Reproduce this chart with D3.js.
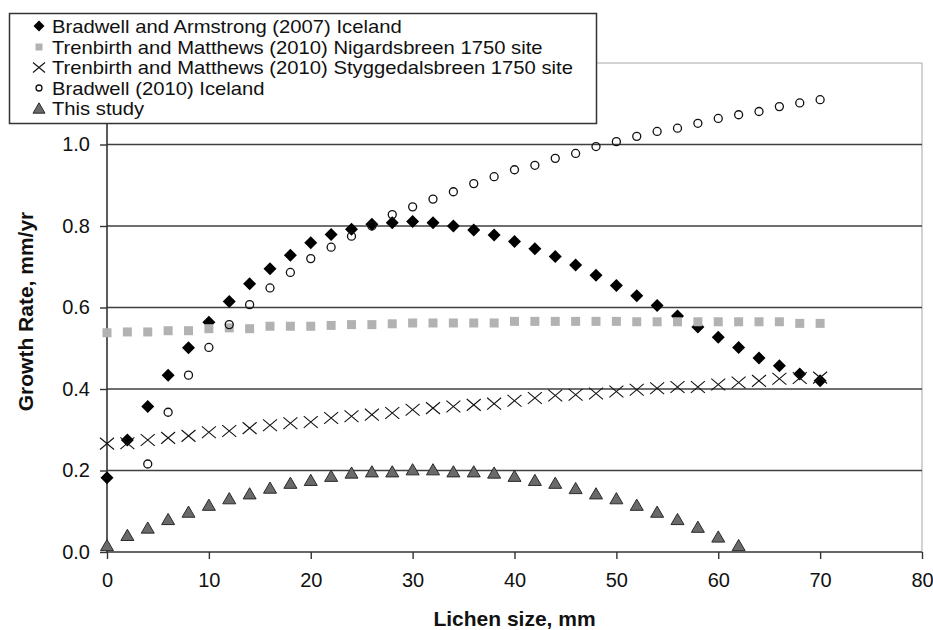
<!DOCTYPE html>
<html>
<head>
<meta charset="utf-8">
<script src="https://cdn.jsdelivr.net/npm/d3@7"></script>
<style>
  html, body { margin: 0; padding: 0; background: #fff; }
  svg { display: block; font-family: "Liberation Sans", Arial, sans-serif; }
</style>
</head>
<body>
<svg id="chart" width="933" height="630"></svg>
<script>
// ---- data ----
const lichenSizes = [0,2,4,6,8,10,12,14,16,18,20,22,24,26,28,30,32,34,36,38,40,42,44,46,48,50,52,54,56,58,60,62,64,66,68,70];
const bradwellArmstrong2007 = [0.182,0.275,0.357,0.434,0.501,0.564,0.615,0.658,0.695,0.728,0.759,0.779,0.792,0.804,0.808,0.811,0.808,0.800,0.790,0.778,0.762,0.744,0.725,0.704,0.679,0.654,0.629,0.605,0.579,0.552,0.527,0.502,0.476,0.457,0.437,0.420];
const nigardsbreen1750 = [0.538,0.540,0.540,0.543,0.543,0.548,0.550,0.548,0.554,0.554,0.554,0.556,0.558,0.558,0.560,0.562,0.562,0.562,0.562,0.562,0.566,0.566,0.566,0.566,0.566,0.566,0.565,0.565,0.565,0.565,0.565,0.565,0.565,0.565,0.561,0.561];
const styggedalsbreen1750 = [0.266,0.267,0.275,0.280,0.285,0.294,0.297,0.304,0.311,0.316,0.319,0.329,0.333,0.337,0.341,0.349,0.353,0.357,0.361,0.364,0.371,0.378,0.384,0.386,0.389,0.394,0.398,0.402,0.405,0.405,0.411,0.416,0.420,0.425,0.427,0.428];
const bradwell2010 = [null,null,0.216,0.343,0.434,0.502,0.558,0.607,0.648,0.686,0.720,0.748,0.775,0.800,0.828,0.847,0.866,0.884,0.904,0.921,0.938,0.949,0.966,0.978,0.995,1.007,1.020,1.032,1.040,1.052,1.064,1.073,1.081,1.093,1.102,1.110];
const thisStudy = [0.017,0.042,0.060,0.081,0.099,0.116,0.132,0.144,0.158,0.170,0.177,0.187,0.195,0.198,0.198,0.203,0.203,0.198,0.198,0.195,0.187,0.177,0.170,0.157,0.144,0.132,0.116,0.099,0.081,0.062,0.038,0.017,null,null,null,null];

const seriesNames = [
  "Bradwell and Armstrong (2007) Iceland",
  "Trenbirth and Matthews (2010) Nigardsbreen 1750 site",
  "Trenbirth and Matthews (2010) Styggedalsbreen 1750 site",
  "Bradwell (2010) Iceland",
  "This study"
];
const xTicks = [0,10,20,30,40,50,60,70,80];
const yTicks = [0.0,0.2,0.4,0.6,0.8,1.0];
const xTitle = "Lichen size, mm";
const yTitle = "Growth Rate, mm/yr";

// ---- layout ----
const svg = d3.select("#chart");
const L = 107, R = 922, T = 63, B = 552;
const x = d3.scaleLinear().domain([0, 80]).range([L, R]);
const y = d3.scaleLinear().domain([0, 1.2]).range([B, T]);

// marker painters
const markers = {
  diamond: (g, cx, cy, s) => g.append("path")
      .attr("d", `M${cx},${cy - s/2}L${cx + s/2},${cy}L${cx},${cy + s/2}L${cx - s/2},${cy}Z`)
      .attr("fill", "#000"),
  square: (g, cx, cy, s) => g.append("rect")
      .attr("x", cx - s/2).attr("y", cy - s/2).attr("width", s).attr("height", s)
      .attr("fill", "#b2b2b2"),
  cross: (g, cx, cy, s) => g.append("path")
      .attr("d", `M${cx - s/2},${cy - s*0.42}L${cx + s/2},${cy + s*0.42}M${cx - s/2},${cy + s*0.42}L${cx + s/2},${cy - s*0.42}`)
      .attr("stroke", "#111").attr("stroke-width", 1.1).attr("fill", "none"),
  circle: (g, cx, cy, s) => g.append("circle")
      .attr("cx", cx).attr("cy", cy).attr("r", s/2)
      .attr("fill", "none").attr("stroke", "#111").attr("stroke-width", 1.3),
  triangle: (g, cx, cy, s) => g.append("path")
      .attr("d", `M${cx},${cy - s*0.43}L${cx + s/2},${cy + s*0.43}L${cx - s/2},${cy + s*0.43}Z`)
      .attr("fill", "#6a6a6a").attr("stroke", "#2a2a2a").attr("stroke-width", 1)
};

const seriesDefs = [
  { values: bradwellArmstrong2007, marker: "diamond", size: 13, legSize: 11 },
  { values: nigardsbreen1750, marker: "square", size: 9, legSize: 7 },
  { values: styggedalsbreen1750, marker: "cross", size: 14, legSize: 12 },
  { values: bradwell2010, marker: "circle", size: 8, legSize: 6 },
  { values: thisStudy, marker: "triangle", size: 13, legSize: 12 }
];

// plot border (top/right light gray)
svg.append("path")
  .attr("d", `M${L},${T}H${R}V${B}`)
  .attr("fill", "none").attr("stroke", "#a8a8a8").attr("stroke-width", 1);

// gridlines
svg.append("g").selectAll("line")
  .data(yTicks.filter(v => v > 0))
  .join("line")
  .attr("x1", L).attr("x2", R)
  .attr("y1", d => y(d)).attr("y2", d => y(d))
  .attr("stroke", "#3f3f3f").attr("stroke-width", 1.5);

// axes
const yAxis = d3.axisLeft(y).tickValues(yTicks).tickFormat(d3.format(".1f")).tickSize(7).tickPadding(10);
const gy = svg.append("g").attr("transform", `translate(${L},0)`).call(yAxis);
const xAxis = d3.axisBottom(x).tickValues(xTicks).tickFormat(d3.format("d")).tickSize(7).tickPadding(14);
const gx = svg.append("g").attr("transform", `translate(0,${B})`).call(xAxis);
[gx, gy].forEach(g => {
  g.select(".domain").attr("stroke", "#333").attr("stroke-width", 1.6);
  g.selectAll(".tick line").attr("stroke", "#333").attr("stroke-width", 1.4);
  g.selectAll(".tick text").attr("font-size", 20).attr("fill", "#111")
    .attr("font-family", "Liberation Sans, Arial, sans-serif");
});
gy.select(".domain").attr("d", `M0,${B}V${T}`);
gx.select(".domain").attr("d", `M${L},0H${R}`);

// axis titles
svg.append("text")
  .attr("x", (L + R) / 2).attr("y", 626)
  .attr("text-anchor", "middle").attr("font-weight", "bold").attr("font-size", 21)
  .attr("fill", "#111").text(xTitle);
svg.append("text")
  .attr("transform", `translate(33,${(T + B) / 2 + 4}) rotate(-90)`)
  .attr("text-anchor", "middle").attr("font-weight", "bold").attr("font-size", 21)
  .attr("fill", "#111").text(yTitle);

// series
seriesDefs.forEach(sd => {
  const g = svg.append("g");
  lichenSizes.forEach((s, i) => {
    const v = sd.values[i];
    if (v == null) return;
    markers[sd.marker](g, x(s), y(v), sd.size);
  });
});

// legend
const leg = svg.append("g");
leg.append("rect").attr("x", 9.5).attr("y", 13.5).attr("width", 587).attr("height", 110)
  .attr("fill", "#fff").attr("stroke", "#333").attr("stroke-width", 1.5);
const rowY = [26, 47, 67.5, 88, 108];
seriesDefs.forEach((sd, i) => {
  markers[sd.marker](leg, 39, rowY[i], sd.legSize);
  leg.append("text")
    .attr("transform", `translate(52,${rowY[i] + 6.5}) scale(1.15,1)`)
    .attr("font-size", 17.6).attr("fill", "#111").text(seriesNames[i]);
});
</script>
</body>
</html>
